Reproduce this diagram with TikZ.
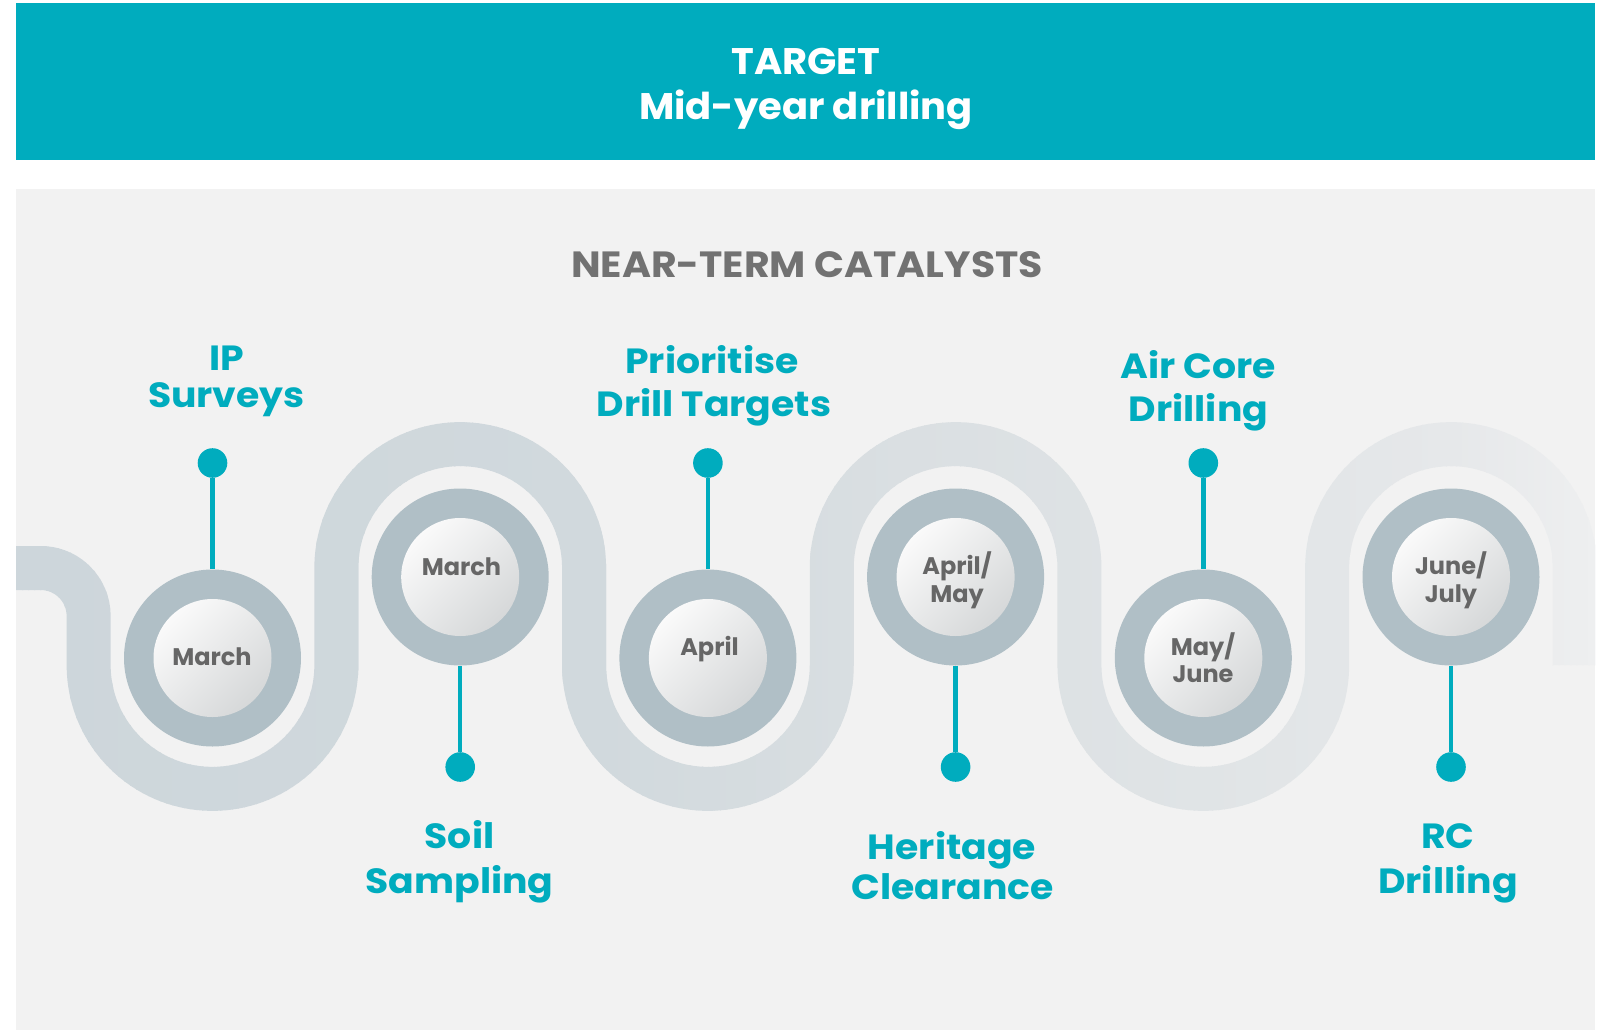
\documentclass[tikz,border=0pt]{standalone}
\usepackage{fontspec}
\setmainfont{Poppins}
\newfontfamily\widefont{Poppins}[FakeStretch=1.08]
\newfontfamily\titlefont{Poppins}[FakeStretch=1.04]

\definecolor{brandteal}{HTML}{00ACBE}
\definecolor{panelbg}{HTML}{F2F2F2}
\definecolor{ringgray}{HTML}{B0BFC6}
\definecolor{coretop}{HTML}{FAFAFA}
\definecolor{corebot}{HTML}{D6D8D9}
\definecolor{headgray}{HTML}{727272}
\definecolor{monthgray}{HTML}{666666}
\definecolor{roadA}{RGB}{205,214,219}
\definecolor{roadB}{RGB}{209,217,221}
\definecolor{roadC}{RGB}{218,223,226}
\definecolor{roadD}{RGB}{224,228,230}
\definecolor{roadE}{RGB}{230,232,234}
\definecolor{roadF}{RGB}{238,239,240}

% centre line of the winding road (image coordinates, y pointing down)
\def\roadpath{(16,568) -- (40.65,568) arc[start angle=-90,end angle=0,radius=48]
  -- (88.65,665)   arc[start angle=180,end angle=0,radius=123.85]
  -- (336.35,568)  arc[start angle=180,end angle=360,radius=123.85]
  -- (584.05,665)  arc[start angle=180,end angle=0,radius=123.85]
  -- (831.75,568)  arc[start angle=180,end angle=360,radius=123.85]
  -- (1079.45,665) arc[start angle=180,end angle=0,radius=123.85]
  -- (1327.15,568) arc[start angle=180,end angle=360,radius=123.85]
  -- (1574.85,665)}

\begin{document}
\begin{tikzpicture}[x=1pt,y=-1pt,
  ring/.style={circle, fill=ringgray, minimum size=177, inner sep=0},
  core/.style={circle, minimum size=118, inner sep=0,
    top color=coretop, bottom color=corebot, shading angle=45},
  pin/.style={circle, fill=brandteal, minimum size=29.6, inner sep=0},
  stem/.style={draw=brandteal, line width=4.5},
  lbl/.style={text=brandteal, anchor=base, inner sep=0,
    font=\widefont\fontsize{35}{40}\selectfont\bfseries},
  month/.style={text=monthgray, anchor=base, inner sep=0,
    font=\fontsize{24}{28}\selectfont\bfseries},
  head/.style={anchor=base, inner sep=0,
    font=\titlefont\fontsize{37}{44}\selectfont\bfseries}]

% canvas
\fill[white] (0,0) rectangle (1601,1030);
\useasboundingbox (0,0) rectangle (1601,1030);

% banner
\fill[brandteal] (16,3) rectangle (1595,160);
\node[head, text=white] (tgt1) at (806,75) {TARGET};
\node[head, text=white] (tgt2) at (806,120) {Mid-year drilling};

% panel
\fill[panelbg] (16,189) rectangle (1595,1030);
\node[head, text=headgray, font=\widefont\fontsize{36.5}{44}\selectfont\bfseries]
  (cat) at (807,277.5) {NEAR-TERM CATALYSTS};

% road, drawn in thin vertical strips to get the left-to-right fade
\foreach \xs/\xe/\ca/\cb in {16/600/roadA/roadB, 600/900/roadB/roadC,
    900/1200/roadC/roadD, 1200/1450/roadD/roadE, 1450/1596/roadE/roadF}{
  \pgfmathtruncatemacro{\n}{(\xe-\xs)/6}
  \foreach \k in {0,...,\n}{
    \pgfmathsetmacro{\xa}{\xs+6*\k}
    \pgfmathsetmacro{\xb}{min(\xa+7,1595)}
    \pgfmathtruncatemacro{\p}{100*\k/\n}
    \colorlet{roadc}{\cb!\p!\ca}
    \begin{scope}
      \clip (\xa,400) rectangle (\xb,830);
      \draw[line width=44, draw=roadc] \roadpath;
    \end{scope}
  }
}

% milestones
\foreach \i/\cx/\cy in {1/212.5/658, 2/460.2/577, 3/707.9/658,
    4/955.6/577, 5/1203.3/658, 6/1451/577}{
  \node[ring] (ring\i) at (\cx,\cy) {};
  \node[core] (core\i) at (\cx,\cy) {};
}

% pins above (odd) and below (even)
\foreach \i/\cx in {1/212.5, 3/707.9, 5/1203.3}{
  \node[pin] (pin\i) at (\cx,463) {};
  \draw[stem] (pin\i) -- (ring\i);
}
\foreach \i/\cx in {2/460.2, 4/955.6, 6/1451}{
  \node[pin] (pin\i) at (\cx,767) {};
  \draw[stem] (ring\i) -- (pin\i);
}

% months
\node[month] (m1)  at (212,665) {March};
\node[month] (m2)  at (461.5,575) {March};
\node[month] (m3)  at (709.5,655.5) {April};
\node[month] (m4a) at (957,574.3) {April/};
\node[month] (m4b) at (957,602.7) {May};
\node[month] (m5a) at (1203,655) {May/};
\node[month] (m5b) at (1203,682.7) {June};
\node[month] (m6a) at (1451,574.3) {June/};
\node[month] (m6b) at (1451,602.7) {July};

% activity labels
\node[lbl] (l1a) at (226.5,370.5) {IP};
\node[lbl] (l1b) at (226.5,407) {Surveys};
\node[lbl] (l2a) at (459.5,848) {Soil};
\node[lbl] (l2b) at (459.5,893) {Sampling};
\node[lbl] (l3a) at (712,373.5) {Prioritise};
\node[lbl] (l3b) at (714,416) {Drill Targets};
\node[lbl] (l4a) at (952,859) {Heritage};
\node[lbl] (l4b) at (952.5,899) {Clearance};
\node[lbl] (l5a) at (1198.5,378) {Air Core};
\node[lbl] (l5b) at (1198.5,421.5) {Drilling};
\node[lbl] (l6a) at (1448,848) {RC};
\node[lbl] (l6b) at (1448,893) {Drilling};
\end{tikzpicture}
\end{document}
